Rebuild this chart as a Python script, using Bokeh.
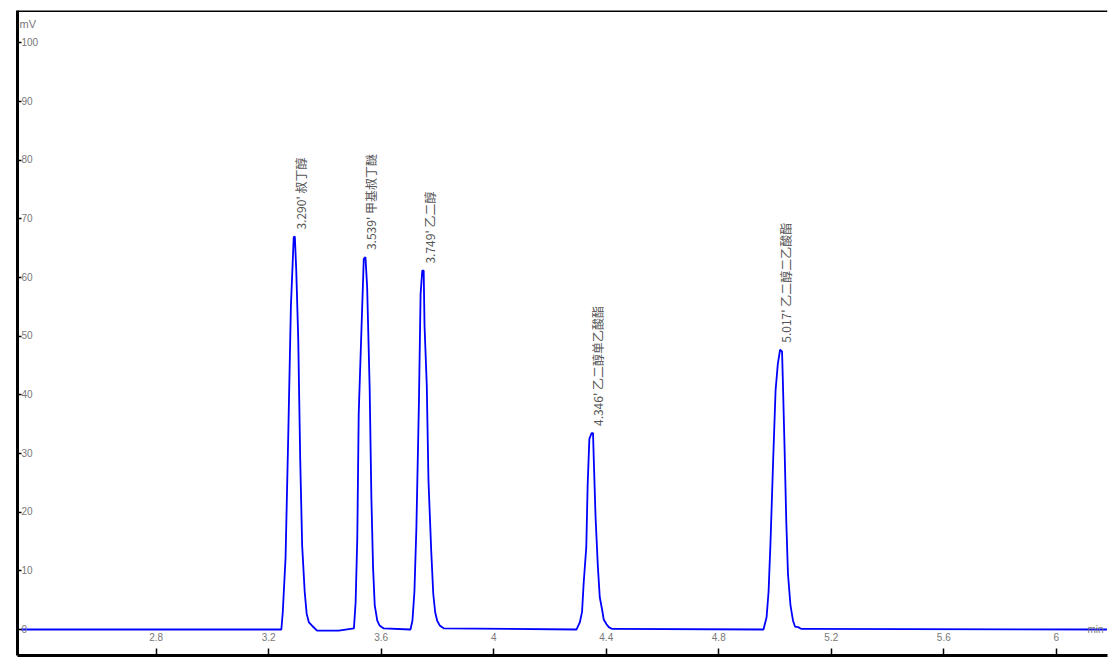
from bokeh.plotting import figure
from bokeh.models import FixedTicker, Span, ColumnDataSource
from bokeh.core.properties import value
from bokeh.embed import file_html
from bokeh.resources import INLINE
import math

# ---- data ----
rt_min = [
    2.320, 3.245, 3.250, 3.260, 3.269, 3.279, 3.289, 3.293, 3.298, 3.305,
    3.312, 3.319, 3.328, 3.335, 3.343, 3.355, 3.372, 3.449, 3.503,
    3.509, 3.515, 3.520, 3.530, 3.538, 3.544, 3.550, 3.559, 3.565, 3.571,
    3.577, 3.586, 3.594, 3.608,
    3.704, 3.711, 3.718, 3.725, 3.734, 3.740, 3.746, 3.751, 3.754, 3.762,
    3.768, 3.778, 3.785, 3.792, 3.799, 3.808, 3.822,
    4.294, 4.306, 4.314, 4.320, 4.329, 4.334, 4.340, 4.348, 4.353, 4.356,
    4.362, 4.370, 4.377, 4.386, 4.391, 4.401, 4.409, 4.421,
    4.959, 4.970, 4.977, 4.984, 4.993, 5.002, 5.010, 5.018, 5.025, 5.028,
    5.034, 5.040, 5.046, 5.055, 5.064, 5.071, 5.082, 5.094,
    6.180,
]
signal_mv = [
    0.0, 0.0, 2.9, 12.3, 31.9, 55.2, 66.9, 67.0, 61.2, 49.6,
    29.1, 14.3, 6.4, 2.7, 1.2, 0.6, -0.2, -0.2, 0.2,
    4.6, 15.7, 36.8, 51.5, 63.2, 63.5, 58.4, 41.0, 22.6, 10.6,
    4.1, 1.5, 0.7, 0.2,
    0.0, 1.5, 6.4, 17.2, 38.5, 57.2, 61.2, 61.2, 51.8, 41.6,
    25.4, 13.2, 6.1, 2.9, 1.5, 0.7, 0.2,
    0.0, 1.2, 3.0, 8.1, 14.0, 24.8, 32.5, 33.5, 33.5, 28.5,
    19.2, 10.9, 5.5, 3.2, 1.7, 0.9, 0.4, 0.1,
    0.0, 2.1, 6.4, 14.9, 28.3, 40.8, 45.3, 47.7, 47.4, 42.2,
    30.8, 18.6, 9.5, 4.1, 1.5, 0.5, 0.4, 0.1,
    0.0,
]

peak_rt = [3.290, 3.539, 3.749, 4.346, 5.017]
peak_rt_text = ["3.290", "3.539", "3.749", "4.346", "5.017"]
peak_height = [67.0, 63.5, 61.2, 33.5, 47.7]
peak_name = ["叔丁醇", "甲基叔丁醚", "乙二醇", "乙二醇单乙酸酯", "乙二醇二乙酸酯"]

x_ticks = [2.8, 3.2, 3.6, 4.0, 4.4, 4.8, 5.2, 5.6, 6.0]
x_tick_labels = ["2.8", "3.2", "3.6", "4", "4.4", "4.8", "5.2", "5.6", "6"]
y_ticks = [0, 10, 20, 30, 40, 50, 60, 70, 80, 90, 100]
y_tick_labels = ["0", "10", "20", "30", "40", "50", "60", "70", "80", "90", "100"]

x_start, x_end = 2.307, 6.182
y_start, y_end = -4.43, 105.54

p = figure(width=1119, height=663,
           x_range=(x_start, x_end), y_range=(y_start, y_end),
           output_backend="svg", toolbar_location=None,
           min_border_left=17, min_border_right=12,
           min_border_top=10, min_border_bottom=8)
p.outline_line_color = None
p.xgrid.visible = False
p.ygrid.visible = False
p.background_fill_color = "white"
p.border_fill_color = "white"

for ax, ticks in ((p.xaxis, x_ticks), (p.yaxis, y_ticks)):
    ax.ticker = FixedTicker(ticks=ticks)
    ax.axis_line_width = 3
    ax.axis_line_color = "black"
    ax.major_tick_out = 0
    ax.major_tick_line_width = 1.5
    ax.major_tick_line_color = "black"
    ax.minor_tick_line_color = None
    ax.major_label_text_font_size = "1px"
    ax.major_label_text_color = None
    ax.major_label_standoff = 0
p.xaxis.major_tick_in = 7
p.yaxis.major_tick_in = 4

p.add_layout(Span(location=y_end, dimension="width", line_color="black", line_width=3))

# chromatogram trace
p.line(rt_min, signal_mv, line_color="#0000FF", line_width=1.8)

# peak labels
labels = [f"{rt}'   {nm}" for rt, nm in zip(peak_rt_text, peak_name)]
src = ColumnDataSource(dict(x=peak_rt, y=peak_height, t=labels))
p.text(x="x", y="y", text="t", source=src, angle=math.pi / 2,
       text_align="left", text_baseline="middle",
       x_offset=6, y_offset=-7,
       text_font=value("Noto Sans CJK SC"), text_font_size="12px",
       text_color="#555555")

# tick labels (drawn inside the frame, like the original)
tick_font = value("Liberation Sans")
p.text(x=[x_start] * len(y_ticks), y=y_ticks, text=y_tick_labels,
       text_align="left", text_baseline="alphabetic", x_offset=4, y_offset=-1,
       text_font=tick_font, text_font_size="10px", text_color="#777777")
p.text(x=x_ticks, y=[y_start] * len(x_ticks), text=x_tick_labels,
       text_align="center", text_baseline="bottom", y_offset=-15,
       text_font=tick_font, text_font_size="10px", text_color="#777777")

# unit labels
p.text(x=[x_start], y=[y_end], text=["mV"], text_align="left", text_baseline="top",
       x_offset=2, y_offset=7, text_font=tick_font, text_font_size="11px",
       text_color="#777777")
p.text(x=[x_end], y=[0], text=["min"], text_align="right", text_baseline="middle",
       x_offset=-4, text_font=tick_font, text_font_size="10px", text_color="#777777")

open("out.html", "w").write(file_html(p, INLINE))
